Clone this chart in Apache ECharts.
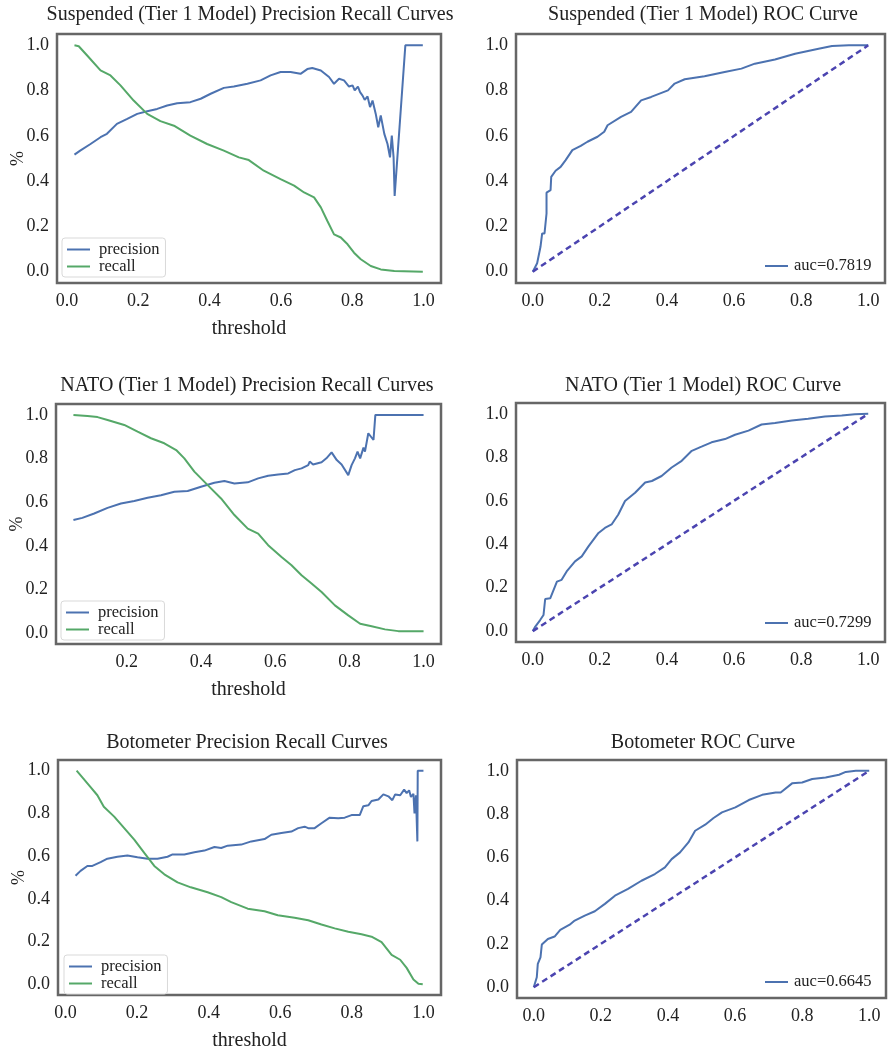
<!DOCTYPE html>
<html>
<head>
<meta charset="utf-8">
<title>Precision recall and ROC curves</title>
<script src="https://cdn.jsdelivr.net/npm/echarts@6.0.0/dist/echarts.min.js"></script>
<style>
  html, body { margin: 0; padding: 0; background: #fff; }
  #main { width: 889px; height: 1052px; }
</style>
</head>
<body>
<div id="main"></div>
<script>
// ---- data ----
// Suspended (Tier 1 Model)
const suspPrecX = [0.021,0.037,0.066,0.094,0.112,0.140,0.169,0.197,0.225,0.253,0.281,0.309,0.346,0.375,0.403,0.440,0.468,0.506,0.543,0.571,0.599,0.627,0.655,0.674,0.688,0.712,0.735,0.749,0.754,0.763,0.777,0.791,0.801,0.807,0.816,0.822,0.829,0.835,0.843,0.850,0.857,0.866,0.873,0.880,0.890,0.899,0.906,0.911,0.916,0.919,0.949,0.998]
const suspPrecY = [0.517,0.535,0.564,0.594,0.609,0.653,0.675,0.697,0.709,0.719,0.734,0.744,0.749,0.764,0.786,0.812,0.818,0.830,0.845,0.867,0.882,0.882,0.874,0.895,0.900,0.889,0.860,0.830,0.823,0.852,0.845,0.818,0.823,0.801,0.818,0.793,0.778,0.759,0.774,0.727,0.756,0.697,0.638,0.690,0.609,0.564,0.505,0.601,0.505,0.335,1.0,1.0]
const suspRecX = [0.021,0.033,0.056,0.094,0.122,0.150,0.187,0.225,0.262,0.300,0.346,0.393,0.440,0.482,0.510,0.552,0.599,0.637,0.665,0.693,0.712,0.730,0.749,0.768,0.787,0.805,0.824,0.852,0.880,0.918,0.998]
const suspRecY = [1.0,0.996,0.956,0.889,0.867,0.823,0.756,0.697,0.665,0.645,0.601,0.564,0.535,0.505,0.493,0.446,0.409,0.380,0.350,0.328,0.284,0.225,0.165,0.151,0.121,0.084,0.055,0.025,0.010,0.003,0.0]
const suspFpr = [0,0.013,0.023,0.028,0.035,0.041,0.041,0.053,0.055,0.068,0.083,0.098,0.118,0.143,0.163,0.193,0.213,0.223,0.263,0.293,0.323,0.353,0.403,0.423,0.453,0.512,0.572,0.622,0.662,0.722,0.782,0.852,0.892,0.942,1.0]
const suspTpr = [0,0.037,0.110,0.169,0.169,0.257,0.349,0.360,0.419,0.446,0.463,0.493,0.537,0.556,0.574,0.596,0.618,0.647,0.684,0.706,0.757,0.772,0.801,0.831,0.850,0.863,0.882,0.897,0.919,0.937,0.963,0.985,0.997,1.0,1.0]

// NATO (Tier 1 Model)
const natoPrecX = [0.056,0.080,0.112,0.148,0.184,0.220,0.256,0.292,0.328,0.364,0.400,0.436,0.463,0.490,0.526,0.554,0.581,0.608,0.635,0.653,0.671,0.689,0.693,0.702,0.725,0.738,0.752,0.766,0.779,0.797,0.806,0.815,0.822,0.829,0.838,0.842,0.851,0.865,0.870,1.0]
const natoPrecY = [0.518,0.528,0.548,0.574,0.594,0.605,0.620,0.632,0.648,0.651,0.671,0.689,0.697,0.686,0.691,0.709,0.721,0.727,0.732,0.747,0.755,0.770,0.786,0.773,0.783,0.801,0.828,0.793,0.773,0.724,0.770,0.801,0.832,0.801,0.850,0.832,0.916,0.885,1.0,1.0]
const natoRecX = [0.056,0.094,0.121,0.148,0.193,0.229,0.265,0.301,0.333,0.355,0.382,0.418,0.454,0.490,0.526,0.554,0.581,0.617,0.644,0.671,0.698,0.725,0.761,0.797,0.829,0.860,0.896,0.932,1.0]
const natoRecY = [1.0,0.995,0.990,0.977,0.954,0.923,0.893,0.870,0.839,0.801,0.740,0.678,0.617,0.541,0.479,0.456,0.403,0.349,0.311,0.265,0.227,0.188,0.127,0.081,0.043,0.031,0.017,0.009,0.008]
const natoFpr = [0,0.007,0.022,0.032,0.037,0.052,0.072,0.086,0.101,0.126,0.146,0.166,0.196,0.215,0.235,0.255,0.275,0.305,0.335,0.355,0.384,0.414,0.444,0.474,0.503,0.533,0.573,0.603,0.643,0.682,0.722,0.772,0.821,0.871,0.921,0.960,1.0]
const natoTpr = [0,0.020,0.051,0.074,0.148,0.151,0.228,0.236,0.275,0.321,0.344,0.390,0.452,0.475,0.491,0.537,0.599,0.637,0.684,0.691,0.714,0.753,0.784,0.830,0.849,0.869,0.884,0.904,0.923,0.951,0.958,0.969,0.977,0.988,0.992,0.998,1.0]

// Botometer
const botPrecX = [0.028,0.042,0.061,0.075,0.098,0.117,0.145,0.173,0.201,0.229,0.257,0.285,0.299,0.332,0.360,0.388,0.416,0.435,0.453,0.491,0.519,0.556,0.575,0.603,0.631,0.650,0.668,0.678,0.696,0.715,0.738,0.762,0.780,0.799,0.822,0.832,0.846,0.855,0.874,0.888,0.902,0.913,0.921,0.935,0.946,0.953,0.960,0.965,0.972,0.975,0.979,0.983,0.984,1.0]
const botPrecY = [0.508,0.531,0.554,0.554,0.572,0.588,0.597,0.603,0.595,0.588,0.588,0.597,0.608,0.608,0.618,0.626,0.643,0.638,0.649,0.654,0.669,0.680,0.700,0.708,0.715,0.731,0.738,0.731,0.731,0.754,0.780,0.777,0.780,0.792,0.792,0.834,0.838,0.858,0.865,0.889,0.880,0.862,0.889,0.885,0.911,0.895,0.908,0.877,0.892,0.800,0.885,0.669,1.0,1.0]
const botRecX = [0.031,0.047,0.070,0.089,0.107,0.136,0.164,0.192,0.220,0.248,0.276,0.313,0.350,0.397,0.435,0.463,0.509,0.556,0.593,0.640,0.678,0.715,0.752,0.790,0.827,0.855,0.883,0.911,0.935,0.953,0.972,0.986,0.998]
const botRecY = [1.0,0.969,0.923,0.885,0.831,0.785,0.731,0.677,0.615,0.554,0.515,0.477,0.454,0.431,0.408,0.385,0.354,0.342,0.323,0.312,0.300,0.280,0.262,0.246,0.234,0.223,0.197,0.138,0.115,0.077,0.023,0.003,0.0]
const botFpr = [0,0.009,0.012,0.020,0.024,0.042,0.062,0.079,0.107,0.122,0.152,0.182,0.212,0.242,0.281,0.321,0.361,0.391,0.411,0.436,0.461,0.481,0.511,0.536,0.561,0.601,0.641,0.681,0.721,0.736,0.770,0.800,0.830,0.870,0.910,0.930,0.960,1.0]
const botTpr = [0,0.046,0.108,0.138,0.197,0.223,0.234,0.265,0.289,0.308,0.331,0.351,0.385,0.423,0.454,0.492,0.523,0.554,0.592,0.623,0.669,0.723,0.751,0.782,0.808,0.831,0.865,0.889,0.900,0.900,0.942,0.946,0.962,0.969,0.982,0.995,1.0,1.0]

// chance diagonal
const chanceX = [0, 1]
const chanceY = [0, 1]

const aucLabels = ['auc=0.7819', 'auc=0.7299', 'auc=0.6645']
const tickValues = [0, 0.2, 0.4, 0.6, 0.8, 1.0]

// ---- styling ----
const FONT = 'Liberation Serif'
const BLUE = '#4C72B0'
const GREEN = '#55A868'
const DIAG = '#4b44b0'
const TEXT = '#222'

function pairs (xs, ys) {
  const n = Math.min(xs.length, ys.length)
  const out = []
  for (let i = 0; i < n; i++) out.push([xs[i], ys[i]])
  return out
}

// grid boxes [left, top, width, height], x range, title
const panels = [
  { box: [57, 34, 384, 249], xr: [-0.028, 1.049], title: 'Suspended (Tier 1 Model) Precision Recall Curves', tx: 250, ty: 15, pr: true, legend: [62, 238] },
  { box: [516, 34, 369, 249], xr: [-0.05, 1.05], title: 'Suspended (Tier 1 Model) ROC Curve', tx: 703, ty: 15, pr: false, legend: [765, 257.5] },
  { box: [56, 404, 385, 240], xr: [0.009, 1.047], title: 'NATO (Tier 1 Model) Precision Recall Curves', tx: 247, ty: 386, pr: true, legend: [61, 601] },
  { box: [516, 403, 369, 239], xr: [-0.05, 1.05], title: 'NATO (Tier 1 Model) ROC Curve', tx: 703, ty: 386, pr: false, legend: [765, 614.5] },
  { box: [58, 760, 383, 237], xr: [-0.021, 1.049], title: 'Botometer Precision Recall Curves', tx: 247, ty: 743, pr: true, legend: [64, 955] },
  { box: [517, 760, 369, 238], xr: [-0.05, 1.05], title: 'Botometer ROC Curve', tx: 703, ty: 743, pr: false, legend: [765, 973.5] }
]

const lineData = [
  { prec: pairs(suspPrecX, suspPrecY), rec: pairs(suspRecX, suspRecY) },
  { roc: pairs(suspFpr, suspTpr), auc: aucLabels[0] },
  { prec: pairs(natoPrecX, natoPrecY), rec: pairs(natoRecX, natoRecY) },
  { roc: pairs(natoFpr, natoTpr), auc: aucLabels[1] },
  { prec: pairs(botPrecX, botPrecY), rec: pairs(botRecX, botRecY) },
  { roc: pairs(botFpr, botTpr), auc: aucLabels[2] }
]

const xLabelStyle = {
  fontFamily: FONT, fontSize: 18, color: TEXT, margin: 9,
  customValues: tickValues,
  formatter: v => v.toFixed(1)
}
const yLabelStyle = { ...xLabelStyle, margin: 8 }

const grids = []
const xAxes = []
const yAxes = []
const series = []
const legends = []
const graphics = []

panels.forEach((p, i) => {
  grids.push({
    left: p.box[0], top: p.box[1], width: p.box[2], height: p.box[3],
    show: true, backgroundColor: '#fff', borderColor: '#666', borderWidth: 2.5
  })
  xAxes.push({
    type: 'value', gridIndex: i, min: p.xr[0], max: p.xr[1],
    axisLine: { show: false }, axisTick: { show: false }, splitLine: { show: false },
    axisLabel: xLabelStyle,
    name: p.pr ? 'threshold' : '',
    nameLocation: 'middle', nameGap: 36, nameMoveOverlap: false,
    nameTextStyle: { fontFamily: FONT, fontSize: 20, color: TEXT }
  })
  yAxes.push({
    type: 'value', gridIndex: i, min: -0.05, max: 1.05,
    axisLine: { show: false }, axisTick: { show: false }, splitLine: { show: false },
    axisLabel: yLabelStyle,
    name: p.pr ? '%' : '',
    nameLocation: 'middle', nameGap: 30, nameRotate: 90, nameMoveOverlap: false,
    nameTextStyle: { fontFamily: FONT, fontSize: 18, color: TEXT }
  })

  const d = lineData[i]
  const base = { type: 'line', xAxisIndex: i, yAxisIndex: i, showSymbol: false, silent: true, animation: false }
  if (p.pr) {
    series.push({ ...base, name: 'precision', color: BLUE, data: d.prec, lineStyle: { width: 2, color: BLUE } })
    series.push({ ...base, name: 'recall', color: GREEN, data: d.rec, lineStyle: { width: 2, color: GREEN } })
    legends.push({
      left: p.legend[0], top: p.legend[1], orient: 'vertical',
      data: ['precision', 'recall'],
      icon: 'rect', itemWidth: 23, itemHeight: 2, itemGap: 0,
      padding: [3, 6, 2, 5],
      borderColor: '#d9d9d9', borderWidth: 1, borderRadius: 3, backgroundColor: '#fff',
      selectedMode: false,
      textStyle: { fontFamily: FONT, fontSize: 16.5, color: TEXT, lineHeight: 17, padding: [0, 0, 0, 4] }
    })
  } else {
    series.push({ ...base, name: d.auc, color: BLUE, data: d.roc, lineStyle: { width: 2, color: BLUE } })
    series.push({ ...base, name: 'chance', color: DIAG, data: pairs(chanceX, chanceY), lineStyle: { width: 2.5, color: DIAG, type: [6, 4] } })
    legends.push({
      left: p.legend[0], top: p.legend[1], orient: 'vertical',
      data: [d.auc],
      icon: 'rect', itemWidth: 23, itemHeight: 2, itemGap: 0,
      padding: 0, selectedMode: false,
      textStyle: { fontFamily: FONT, fontSize: 16.5, color: TEXT, lineHeight: 17, padding: [0, 0, 0, 1] }
    })
  }

  graphics.push({
    type: 'text', x: p.tx, y: p.ty,
    style: { text: p.title, fill: TEXT, font: '20px "' + FONT + '"', align: 'center', verticalAlign: 'middle', textAlign: 'center', textVerticalAlign: 'middle' }
  })
})

const chart = echarts.init(document.getElementById('main'))
chart.setOption({
  animation: false,
  backgroundColor: '#fff',
  grid: grids,
  xAxis: xAxes,
  yAxis: yAxes,
  legend: legends,
  graphic: graphics,
  series: series
})
</script>
</body>
</html>
